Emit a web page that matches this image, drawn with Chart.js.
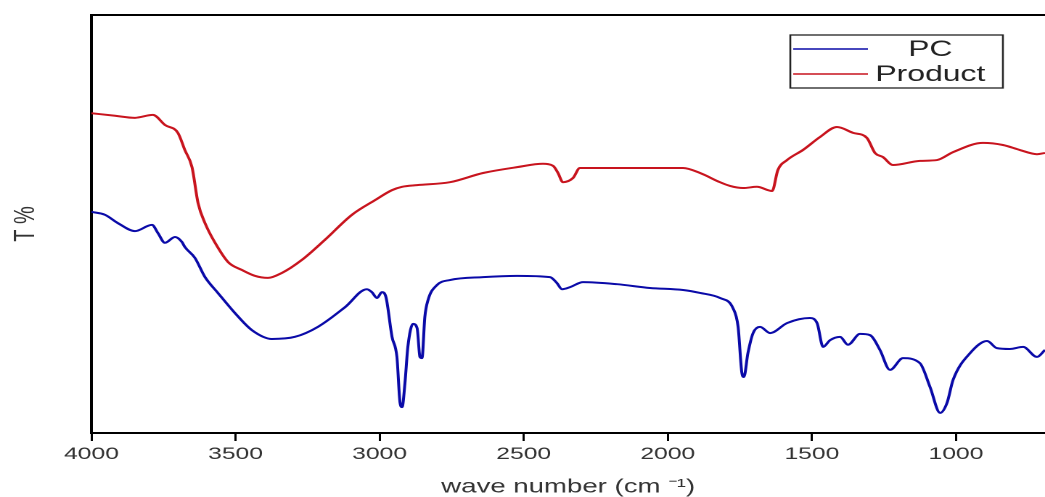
<!DOCTYPE html>
<html>
<head>
<meta charset="utf-8">
<title>FTIR spectra: PC and Product</title>
<style>
  html, body { margin: 0; padding: 0; background: #fff; overflow: hidden; }
  /* the figure is laid out narrow and widened horizontally, like the published plot */
  #wrap { width: 720px; height: 497px; transform: scaleX(1.451389); transform-origin: 0 0; }
  canvas { display: block; }
</style>
<script src="https://cdn.jsdelivr.net/npm/chart.js@4.4.1/dist/chart.umd.min.js"></script>
</head>
<body>
<div id="wrap"><canvas id="ftir" width="720" height="497"></canvas></div>
<script>
// Wavenumber tick labels (cm^-1)
const xTickValues = [4000, 3500, 3000, 2500, 2000, 1500, 1000];

// PC spectrum: wavenumber (cm^-1) and transmittance (arbitrary %)
const pcWavenumber = [4000, 3953, 3908, 3849, 3790, 3769, 3745, 3710, 3686, 3676,
  3641, 3606, 3561, 3502, 3443, 3374, 3294, 3214, 3120, 3044,
  3027, 3009, 2992, 2978, 2957, 2940, 2929, 2922, 2912, 2902,
  2884, 2870, 2860, 2853, 2843, 2832, 2801, 2756, 2641, 2523,
  2409, 2385, 2367, 2339, 2294, 2176, 2062, 1947, 1888, 1819,
  1774, 1756, 1743, 1736, 1722, 1704, 1680, 1645, 1586, 1507,
  1482, 1461, 1437, 1402, 1375, 1333, 1298, 1264, 1229, 1184,
  1125, 1090, 1055, 1031, 1010, 951, 892, 858, 813, 767, 719, 691];
const pcT = [52.9, 52.2, 50.2, 48.3, 49.8, 47.8, 45.5, 46.9, 45.7, 44.5,
  41.9, 37.3, 33.5, 28.7, 24.6, 22.5, 23.0, 25.4, 30.1, 34.4,
  33.7, 32.3, 33.7, 32.5, 23.0, 18.2, 7.2, 6.2, 12.0, 20.6,
  26.1, 25.1, 18.2, 17.9, 27.8, 31.8, 35.4, 36.6, 37.3, 37.6,
  37.3, 35.9, 34.4, 34.9, 36.1, 35.6, 34.7, 34.2, 33.5, 32.3,
  29.9, 25.4, 14.4, 13.4, 19.1, 23.9, 25.4, 23.9, 26.3, 27.5,
  26.3, 20.6, 22.2, 23.0, 21.1, 23.7, 23.4, 19.9, 15.1, 17.9,
  16.7, 11.0, 4.8, 7.2, 12.7, 19.1, 22.0, 20.3, 20.1, 20.6, 18.2, 19.9];

// Product spectrum
const productWavenumber = [4000, 3918, 3849, 3787, 3745, 3700, 3676, 3651, 3630, 3606,
  3571, 3526, 3478, 3433, 3388, 3339, 3270, 3190, 3096, 3016,
  2957, 2922, 2870, 2756, 2641, 2523, 2433, 2398, 2381, 2364,
  2329, 2305, 2176, 1947, 1888, 1819, 1784, 1739, 1691, 1638,
  1618, 1586, 1531, 1472, 1413, 1357, 1309, 1281, 1253, 1219,
  1125, 1066, 1010, 906, 837, 778, 719, 691];
const productT = [76.5, 75.9, 75.4, 76.1, 73.7, 71.8, 67.7, 63.6, 55.0, 50.2,
  45.5, 40.9, 39.0, 37.6, 37.1, 38.3, 41.4, 46.2, 52.2, 55.7,
  58.1, 58.9, 59.3, 60.0, 62.2, 63.6, 64.4, 63.9, 62.2, 60.0,
  61.0, 63.4, 63.4, 63.4, 62.2, 60.0, 59.1, 58.6, 58.9, 57.9,
  62.9, 65.3, 67.7, 70.8, 73.2, 71.8, 70.6, 67.0, 66.0, 64.1,
  65.1, 65.3, 67.2, 69.4, 68.9, 67.7, 66.7, 67.0];

const seriesNames = ['PC', 'Product'];
const seriesColors = ['#0a0aa8', '#c8141e'];

const toPoints = (xs, ys) => xs.map((x, i) => ({ x: x, y: ys[i] }));

const FONT = "'Liberation Sans', Arial, sans-serif";
Chart.defaults.font.family = FONT;
Chart.defaults.color = '#333';

// Top frame line and a boxed legend inside the plot
const framePlugin = {
  id: 'frameAndLegend',
  afterDatasetsDraw(chart) {
    const { ctx, chartArea: a } = chart;
    ctx.save();
    ctx.strokeStyle = '#000';
    ctx.lineWidth = 2;
    ctx.beginPath();
    ctx.moveTo(a.left - 1, a.top);
    ctx.lineTo(a.right, a.top);
    ctx.stroke();

    const bx = a.right - 175.5, by = a.top + 20, bw = 146.5, bh = 53;
    ctx.fillStyle = '#fff';
    ctx.fillRect(bx, by, bw, bh);
    ctx.strokeStyle = '#222';
    ctx.lineWidth = 1.3;
    ctx.strokeRect(bx, by, bw, bh);
    ctx.font = '22px ' + FONT;
    ctx.textAlign = 'center';
    ctx.textBaseline = 'middle';
    chart.data.datasets.forEach((ds, i) => {
      const ly = by + 14 + i * 25;
      ctx.strokeStyle = ds.borderColor;
      ctx.lineWidth = 1.5;
      ctx.beginPath();
      ctx.moveTo(bx + 2, ly);
      ctx.lineTo(bx + 53.5, ly);
      ctx.stroke();
      ctx.fillStyle = '#222';
      ctx.fillText(ds.label, bx + 96.5, ly + 1);
    });
    ctx.restore();
  }
};

new Chart(document.getElementById('ftir'), {
  type: 'line',
  data: {
    datasets: [
      { label: seriesNames[0], data: toPoints(pcWavenumber, pcT), borderColor: seriesColors[0] },
      { label: seriesNames[1], data: toPoints(productWavenumber, productT), borderColor: seriesColors[1] }
    ]
  },
  options: {
    responsive: false,
    animation: false,
    devicePixelRatio: 2,
    layout: { padding: { top: 15, right: 0, bottom: 0, left: 0 } },
    elements: {
      line: { borderWidth: 2, cubicInterpolationMode: 'monotone', fill: false },
      point: { radius: 0 }
    },
    plugins: {
      legend: { display: false },
      tooltip: { enabled: false }
    },
    scales: {
      x: {
        type: 'linear',
        reverse: true,
        min: 691,
        max: 4000,
        afterBuildTicks(scale) { scale.ticks = xTickValues.map(v => ({ value: v })); },
        afterFit(scale) { scale.height = 64; },
        grid: { display: true, drawOnChartArea: false, drawTicks: true, tickLength: 8, color: '#000', lineWidth: 1.5 },
        border: { display: true, color: '#000', width: 2 },
        ticks: { font: { size: 17 }, padding: 3, color: '#333', maxRotation: 0, autoSkip: false,
                 callback: v => String(v) },
        title: {
          display: true,
          text: 'wave number (cm \u207B\u00B9)',
          font: { size: 19, lineHeight: 1 },
          padding: { top: 0, bottom: 0 },
          color: '#333'
        }
      },
      y: {
        min: 0,
        max: 100,
        afterFit(scale) { scale.width = 63; },
        grid: { display: false },
        border: { display: true, color: '#000', width: 2 },
        ticks: { display: false },
        title: {
          display: true,
          text: 'T %',
          font: { size: 20, lineHeight: 1 },
          padding: { top: 8, bottom: 0 },
          color: '#333'
        }
      }
    }
  },
  plugins: [framePlugin]
});
</script>
</body>
</html>
